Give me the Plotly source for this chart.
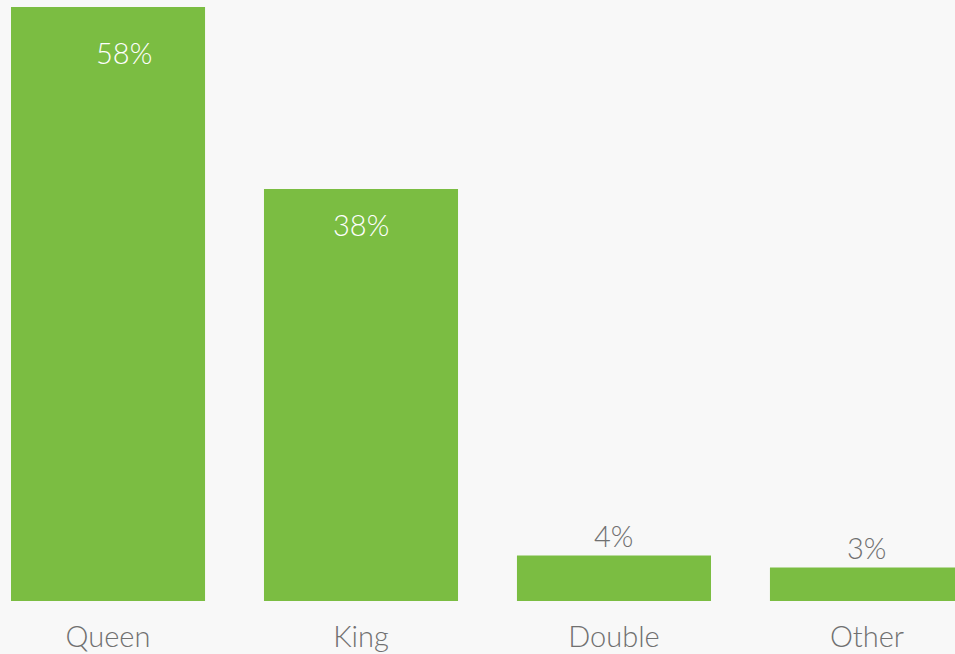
import plotly.graph_objects as go

categories = ["Queen", "King", "Double", "Other"]
values = [58, 38, 4.2, 3.1]
labels = ["58%", "38%", "4%", "3%"]

GREEN = "#7BBD42"
BG = "#F8F8F8"
FONT = "Lato"
FS = 29

Y_MAX = 54.8
fig = go.Figure(go.Bar(x=categories, y=values, marker=dict(color=GREEN, line=dict(width=0)),
                       hoverinfo="skip"))

inside_style = {"Queen": (16, -45), "King": (0, -35)}
for c, v, t in zip(categories, values, labels):
    if c in inside_style:
        xs, ys = inside_style[c]
        fig.add_annotation(x=c, y=min(v, Y_MAX), text=t, showarrow=False, xshift=xs, yshift=ys,
                           yanchor="middle", font=dict(family=FONT, size=FS, color="white", weight=300))
    else:
        fig.add_annotation(x=c, y=v, text=t, showarrow=False, yshift=20, yanchor="middle",
                           font=dict(family=FONT, size=FS, color="#707070", weight=300))

fig.update_layout(
    width=955, height=654,
    margin=dict(l=0, r=0, t=7, b=53),
    paper_bgcolor=BG, plot_bgcolor=BG,
    bargap=0.233,
    showlegend=False,
    xaxis=dict(range=[-0.427, 3.348], showgrid=False, zeroline=False, showline=False, ticks="",
               ticklabelstandoff=16,
               tickfont=dict(family=FONT, size=FS, color="#707070", weight=300), fixedrange=True),
    yaxis=dict(range=[0, Y_MAX], visible=False, fixedrange=True),
)
fig.write_html("out.html", config={"displayModeBar": False},
               post_script="document.body.style.margin='0';document.body.style.background='#F8F8F8';")
